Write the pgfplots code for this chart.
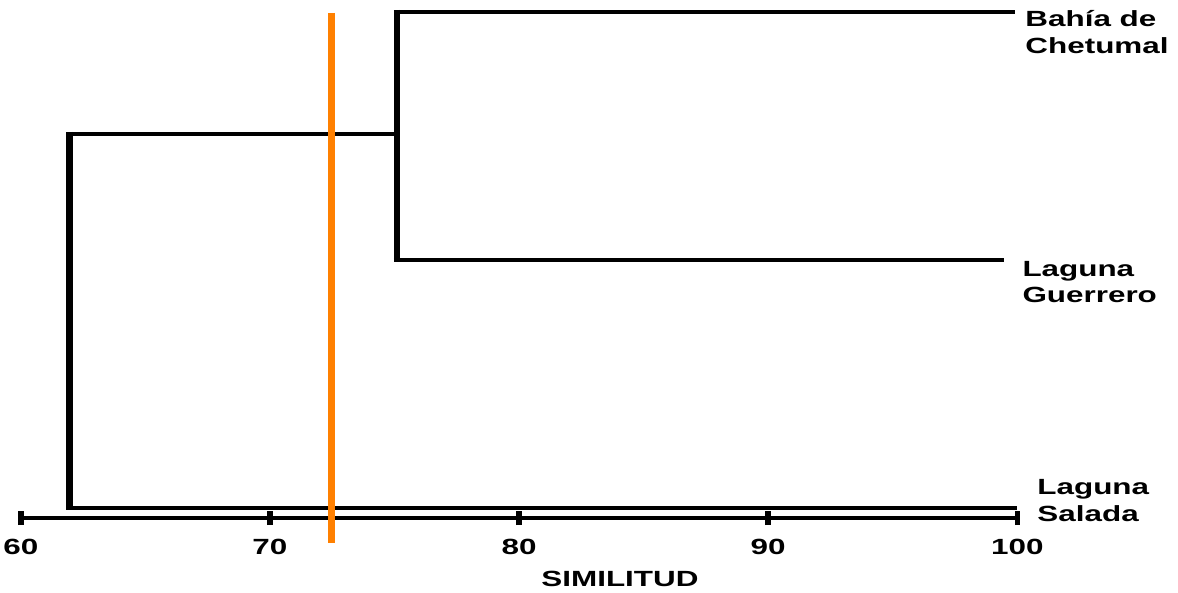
\documentclass[border=0pt]{standalone}
\usepackage{fontspec}
\setmainfont{Liberation Sans}
\newfontfamily\widefont[FakeStretch=1.43]{Liberation Sans}
\usepackage{pgfplots}
\pgfplotsset{compat=1.18}
\definecolor{cutorange}{RGB}{255,128,0}
\newcommand{\lbl}{\widefont\bfseries\fontsize{22}{26}\selectfont}
\begin{document}
\begin{tikzpicture}[x=1pt,y=1pt]
\begin{axis}[
  scale only axis, width=998pt, height=519pt,
  xmin=60, xmax=100, ymin=0, ymax=519,
  enlargelimits=false, clip=false,
  axis x line*=bottom, axis y line=none,
  x axis line style={line width=4pt, black, line cap=butt},
  xtick={60,70,80,90,100},
  tick align=center, major tick length=14pt,
  tick style={line width=5.5pt, black},
  /pgf/number format/assume math mode=true,
  xticklabel style={font=\lbl, anchor=base, yshift=-29pt},
  xticklabel={\pgfmathprintnumber{\tick}},
]
% dendrogram branches: horizontals
\addplot[black, line width=4pt, line cap=butt] coordinates {(74.98,507) (99.9,507)};
\addplot[black, line width=4pt, line cap=butt] coordinates {(74.98,259) (99.45,259)};
\addplot[black, line width=4pt, line cap=butt] coordinates {(61.83,385) (75.22,385)};
\addplot[black, line width=4pt, line cap=butt] coordinates {(61.83,10) (100,10)};
% verticals
\addplot[black, line width=6pt, line cap=butt] coordinates {(75.1,509) (75.1,257)};
\addplot[black, line width=6.5pt, line cap=butt] coordinates {(61.95,387) (61.95,8)};
% cut line
\addplot[cutorange, line width=6.5pt, line cap=butt] coordinates {(72.47,506) (72.47,-25)};
% labels
\path (100.32,492) node[anchor=base west, inner sep=0pt, font=\lbl] {Bahía de};
\path (100.32,465) node[anchor=base west, inner sep=0pt, font=\lbl] {Chetumal};
\path (100.2,242) node[anchor=base west, inner sep=0pt, font=\lbl] {Laguna};
\path (100.2,216) node[anchor=base west, inner sep=0pt, font=\lbl] {Guerrero};
\path (100.8,24) node[anchor=base west, inner sep=0pt, font=\lbl] {Laguna};
\path (100.8,-3) node[anchor=base west, inner sep=0pt, font=\lbl] {Salada};
\path (84.05,-68) node[anchor=base, inner sep=0pt, font=\lbl] {SIMILITUD};
\path (59.238,-74) rectangle (106.45,519);
\end{axis}
\end{tikzpicture}
\end{document}
